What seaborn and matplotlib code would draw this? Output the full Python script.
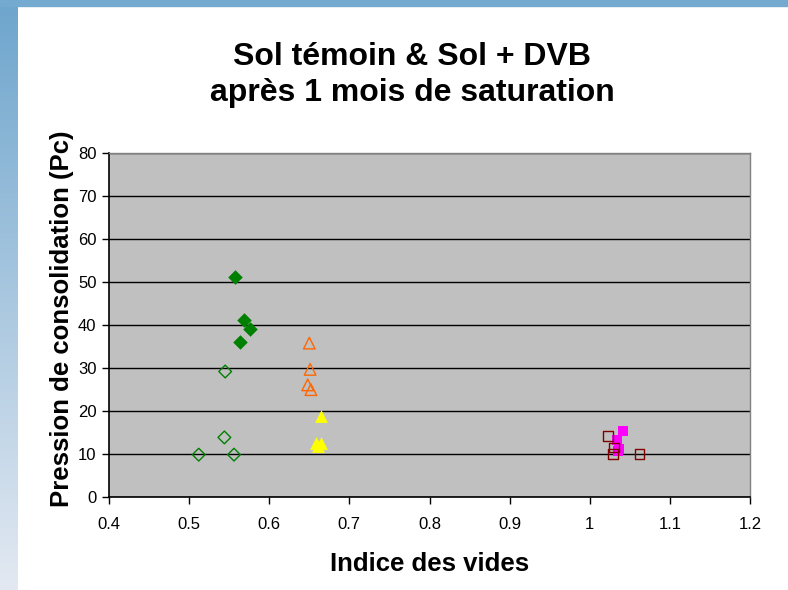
import numpy as np
import matplotlib
matplotlib.use("Agg")
import matplotlib.pyplot as plt
from matplotlib.patches import Rectangle
import seaborn as sns

# Indice des vides (e) et pression de consolidation (Pc)
e_temoin_1 = [0.557, 0.568, 0.576, 0.564]
pc_temoin_1 = [51.2, 41.2, 39.0, 36.1]

e_dvb_1 = [0.545, 0.544, 0.512, 0.556]
pc_dvb_1 = [29.2, 13.9, 9.9, 9.9]

e_temoin_2 = [0.650, 0.651, 0.648, 0.652]
pc_temoin_2 = [35.8, 29.7, 26.1, 25.0]

e_dvb_2 = [0.664, 0.658, 0.665, 0.661]
pc_dvb_2 = [18.8, 12.6, 12.7, 11.9]

e_temoin_3 = [1.041, 1.034, 1.037, 1.035]
pc_temoin_3 = [15.3, 13.2, 11.2, 10.8]

e_dvb_3 = [1.023, 1.030, 1.029, 1.062]
pc_dvb_3 = [14.2, 11.6, 10.0, 10.0]

x_ticks = [0.4, 0.5, 0.6, 0.7, 0.8, 0.9, 1.0, 1.1, 1.2]
x_tick_labels = ["0.4", "0.5", "0.6", "0.7", "0.8", "0.9", "1", "1.1", "1.2"]
y_ticks = [0, 10, 20, 30, 40, 50, 60, 70, 80]

sns.set_style("white")
plt.rcParams["font.family"] = ["Liberation Sans", "DejaVu Sans"]
plt.rcParams["text.color"] = "black"
plt.rcParams["axes.labelcolor"] = "black"
plt.rcParams["xtick.color"] = "black"
plt.rcParams["ytick.color"] = "black"

fig = plt.figure(figsize=(7.88, 5.9), dpi=100)

# cadre bleu (bande en haut, degrade a gauche)
fig.patches.append(Rectangle((0, 1 - 6 / 590), 1, 6 / 590, transform=fig.transFigure,
                             color="#74aacf", zorder=0))
grad_ax = fig.add_axes([0, 0, 18 / 788, 1 - 6 / 590])
grad = np.linspace(0, 1, 256).reshape(-1, 1)
cmap = matplotlib.colors.LinearSegmentedColormap.from_list("bord", ["#6fa6cd", "#e3e9f2"])
grad_ax.imshow(grad, aspect="auto", cmap=cmap)
grad_ax.axis("off")

ax = fig.add_axes([109 / 788, 1 - 497.3 / 590, 641 / 788, 344.6 / 590])
ax.set_facecolor("#c0c0c0")

series = [
    (e_temoin_1, pc_temoin_1, "D", "#008000", True, 55),
    (e_dvb_1, pc_dvb_1, "D", "#008000", False, 42),
    (e_temoin_2, pc_temoin_2, "^", "#ff6600", False, 70),
    (e_dvb_2, pc_dvb_2, "^", "#ffff00", True, 85),
    (e_temoin_3, pc_temoin_3, "s", "#ff00ff", True, 60),
    (e_dvb_3, pc_dvb_3, "s", "#800000", False, 48),
]
for xs, ys, mk, col, filled, size in series:
    if filled:
        sns.scatterplot(x=xs, y=ys, marker=mk, color=col, s=size, linewidth=0,
                        ax=ax, zorder=3)
    else:
        sns.scatterplot(x=xs, y=ys, marker=mk, facecolors="none", edgecolor=col,
                        s=size, linewidth=1.0, ax=ax, zorder=3)

ax.set_xlim(0.4, 1.2)
ax.set_ylim(0, 80)
ax.set_xticks(x_ticks)
ax.set_xticklabels(x_tick_labels)
ax.set_yticks(y_ticks)
ax.yaxis.grid(True, color="black", linewidth=1.0)
ax.set_axisbelow(True)
ax.tick_params(axis="both", direction="out", length=5, width=1, color="black",
               labelcolor="black", labelsize=12, bottom=True, left=True)
ax.tick_params(axis="x", pad=9)
ax.tick_params(axis="y", pad=4)

for side in ["top", "right"]:
    ax.spines[side].set_color("#808080")
    ax.spines[side].set_linewidth(1)
for side in ["left", "bottom"]:
    ax.spines[side].set_color("black")
    ax.spines[side].set_linewidth(1.2)

ax.set_xlabel("Indice des vides", fontsize=18.5, fontweight="bold", va="center",
              color="black")
ax.xaxis.set_label_coords(0.5, (497.3 - 564) / 344.6)
ax.set_ylabel("Pression de consolidation (Pc)", fontsize=18.5, fontweight="bold",
              va="center", color="black")
ax.yaxis.set_label_coords((62 - 109) / 641, 0.517)

fig.text(412 / 788, 1 - 75 / 590, "Sol témoin & Sol + DVB\naprès 1 mois de saturation",
         ha="center", va="center", fontsize=23, fontweight="bold", linespacing=1.28,
         color="black")

fig.savefig("out.png", dpi=100)
